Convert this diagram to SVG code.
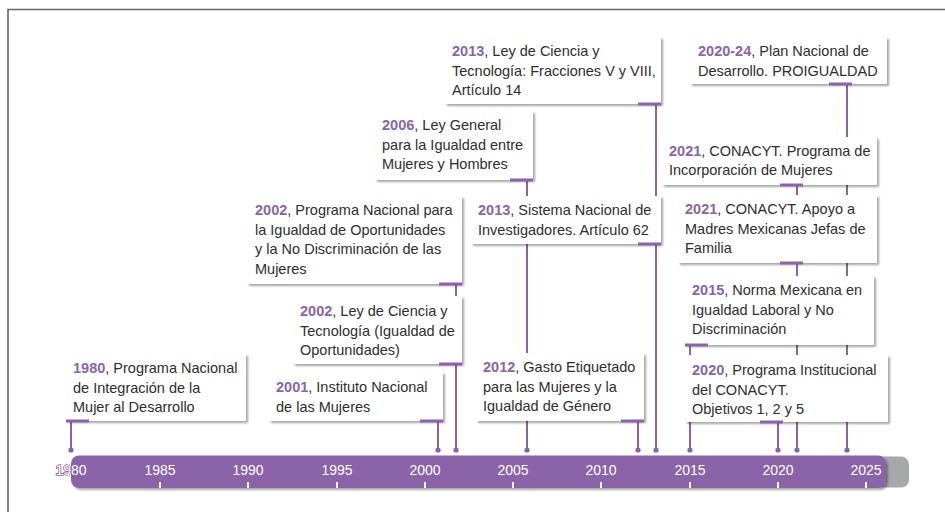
<svg xmlns="http://www.w3.org/2000/svg" width="945" height="512" viewBox="0 0 945 512">
<defs>
<filter id="sh" x="-10%" y="-10%" width="125%" height="135%">
<feDropShadow dx="2" dy="2" stdDeviation="1.3" flood-color="#000" flood-opacity="0.35"/>
</filter>
<style>
.box{fill:#fff;filter:url(#sh)}
.ul{stroke:#8b64a8;stroke-width:3}
.t{font-family:"Liberation Sans",Arial,Helvetica,sans-serif;font-size:14.5px;fill:#2e2e2e}
.y{font-weight:bold;fill:#8b64a8}
.con{stroke:#8b64a8;stroke-width:2;fill:none}
.dot{fill:#8b64a8}
.yr{font-family:"Liberation Sans",Arial,Helvetica,sans-serif;font-size:14px;fill:#fff;text-anchor:middle}
.tick{stroke:#fff;stroke-width:2}
</style>
</defs>
<rect width="945" height="512" fill="#fff"/>
<path d="M8 512 V9.5 H945" fill="none" stroke="#666" stroke-width="1.6"/>

<g id="axis">
<rect x="850" y="456.5" width="59" height="31" rx="8" fill="#a7a8ab"/>
<rect x="71" y="455.5" width="815" height="32.5" rx="8" fill="#8b64a8" filter="url(#sh)"/>
<g class="tick">
<line x1="160" y1="482" x2="160" y2="488"/>
<line x1="248" y1="482" x2="248" y2="488"/>
<line x1="337" y1="482" x2="337" y2="488"/>
<line x1="425" y1="482" x2="425" y2="488"/>
<line x1="513" y1="482" x2="513" y2="488"/>
<line x1="601" y1="482" x2="601" y2="488"/>
<line x1="690" y1="482" x2="690" y2="488"/>
<line x1="778" y1="482" x2="778" y2="488"/>
<line x1="866" y1="482" x2="866" y2="488"/>
</g>
<text class="yr" x="71" y="475" stroke="#8b64a8" stroke-width="1.6" paint-order="stroke">1980</text>
<text class="yr" x="160" y="475">1985</text>
<text class="yr" x="248" y="475">1990</text>
<text class="yr" x="337" y="475">1995</text>
<text class="yr" x="425" y="475">2000</text>
<text class="yr" x="513" y="475">2005</text>
<text class="yr" x="601" y="475">2010</text>
<text class="yr" x="690" y="475">2015</text>
<text class="yr" x="778" y="475">2020</text>
<text class="yr" x="866" y="475">2025</text>
</g>

<g id="connectors">
<line class="con" x1="71" y1="421" x2="71" y2="450"/>
<line class="con" x1="438" y1="421" x2="438" y2="450"/>
<line class="con" x1="456" y1="284" x2="456" y2="450"/>
<line class="con" x1="527" y1="180" x2="527" y2="450"/>
<line class="con" x1="638" y1="421" x2="638" y2="450"/>
<line class="con" x1="656" y1="104" x2="656" y2="450"/>
<line class="con" x1="690" y1="345" x2="690" y2="450"/>
<line class="con" x1="778" y1="422" x2="778" y2="450"/>
<line class="con" x1="797" y1="185" x2="797" y2="450"/>
<line class="con" x1="847" y1="84" x2="847" y2="450"/>
<circle class="dot" cx="71" cy="450" r="2.6"/>
<circle class="dot" cx="438" cy="450" r="2.6"/>
<circle class="dot" cx="456" cy="450" r="2.6"/>
<circle class="dot" cx="527" cy="450" r="2.6"/>
<circle class="dot" cx="638" cy="450" r="2.6"/>
<circle class="dot" cx="656" cy="450" r="2.6"/>
<circle class="dot" cx="690" cy="450" r="2.6"/>
<circle class="dot" cx="778" cy="450" r="2.6"/>
<circle class="dot" cx="797" cy="450" r="2.6"/>
<circle class="dot" cx="847" cy="450" r="2.6"/>
</g>

<g id="e1980">
<rect class="box" x="66" y="354" width="180" height="67"/>
<line class="ul" x1="66" y1="421" x2="89" y2="421"/>
<text class="t" x="73" y="373"><tspan class="y">1980</tspan>, Programa Nacional<tspan x="73" y="392.5">de Integración de la</tspan><tspan x="73" y="412">Mujer al Desarrollo</tspan></text>
</g>

<g id="e2001">
<rect class="box" x="269" y="372" width="174" height="49"/>
<line class="ul" x1="420" y1="421" x2="443" y2="421"/>
<text class="t" x="276" y="392"><tspan class="y">2001</tspan>, Instituto Nacional<tspan x="276" y="411.5">de las Mujeres</tspan></text>
</g>

<g id="e2002a">
<rect class="box" x="247" y="196" width="215" height="88"/>
<line class="ul" x1="439" y1="284" x2="462" y2="284"/>
<text class="t" x="255" y="215"><tspan class="y">2002</tspan>, Programa Nacional para<tspan x="255" y="234.5">la Igualdad de Oportunidades</tspan><tspan x="255" y="254">y la No Discriminación de las</tspan><tspan x="255" y="273.5">Mujeres</tspan></text>
</g>

<g id="e2002b">
<rect class="box" x="293" y="296" width="169" height="68"/>
<line class="ul" x1="439" y1="364" x2="462" y2="364"/>
<text class="t" x="300" y="316"><tspan class="y">2002</tspan>, Ley de Ciencia y<tspan x="300" y="335.5">Tecnología (Igualdad de</tspan><tspan x="300" y="355">Oportunidades)</tspan></text>
</g>

<g id="e2006">
<rect class="box" x="375" y="111" width="158" height="69"/>
<line class="ul" x1="510" y1="180" x2="533" y2="180"/>
<text class="t" x="382" y="130"><tspan class="y">2006</tspan>, Ley General<tspan x="382" y="149.5">para la Igualdad entre</tspan><tspan x="382" y="169">Mujeres y Hombres</tspan></text>
</g>

<g id="e2013a">
<rect class="box" x="445" y="37" width="216" height="67"/>
<line class="ul" x1="638" y1="104" x2="661" y2="104"/>
<text class="t" x="452" y="56"><tspan class="y">2013</tspan>, Ley de Ciencia y<tspan x="452" y="75.5">Tecnología: Fracciones V y VIII,</tspan><tspan x="452" y="95">Artículo 14</tspan></text>
</g>

<g id="e2013b">
<rect class="box" x="471" y="196" width="190" height="48"/>
<line class="ul" x1="638" y1="244" x2="661" y2="244"/>
<text class="t" x="478" y="215"><tspan class="y">2013</tspan>, Sistema Nacional de<tspan x="478" y="234.5">Investigadores. Artículo 62</tspan></text>
</g>

<g id="e2012">
<rect class="box" x="476" y="353" width="168" height="68"/>
<line class="ul" x1="621" y1="421" x2="644" y2="421"/>
<text class="t" x="483" y="372"><tspan class="y">2012</tspan>, Gasto Etiquetado<tspan x="483" y="391.5">para las Mujeres y la</tspan><tspan x="483" y="411">Igualdad de Género</tspan></text>
</g>

<g id="e2020-24">
<rect class="box" x="690" y="37" width="197" height="47"/>
<line class="ul" x1="829" y1="84" x2="852" y2="84"/>
<text class="t" x="698" y="56"><tspan class="y">2020-24</tspan>, Plan Nacional de<tspan x="698" y="75.5">Desarrollo. PROIGUALDAD</tspan></text>
</g>

<g id="e2021a">
<rect class="box" x="662" y="137" width="215" height="48"/>
<line class="ul" x1="780" y1="185" x2="803" y2="185"/>
<text class="t" x="669" y="155.5"><tspan class="y">2021</tspan>, CONACYT. Programa de<tspan x="669" y="175">Incorporación de Mujeres</tspan></text>
</g>

<g id="e2021b">
<rect class="box" x="678" y="195" width="199" height="68"/>
<line class="ul" x1="780" y1="263" x2="803" y2="263"/>
<text class="t" x="685" y="214"><tspan class="y">2021</tspan>, CONACYT. Apoyo a<tspan x="685" y="233.5">Madres Mexicanas Jefas de</tspan><tspan x="685" y="253">Familia</tspan></text>
</g>

<g id="e2015">
<rect class="box" x="685" y="276" width="189" height="69"/>
<line class="ul" x1="685" y1="345" x2="708" y2="345"/>
<text class="t" x="692" y="295"><tspan class="y">2015</tspan>, Norma Mexicana en<tspan x="692" y="314.5">Igualdad Laboral y No</tspan><tspan x="692" y="334">Discriminación</tspan></text>
</g>

<g id="e2020">
<rect class="box" x="685" y="355" width="203" height="67"/>
<line class="ul" x1="760" y1="422" x2="783" y2="422"/>
<text class="t" x="692" y="375"><tspan class="y">2020</tspan>, Programa Institucional<tspan x="692" y="394.5">del CONACYT.</tspan><tspan x="692" y="414">Objetivos 1, 2 y 5</tspan></text>
</g>
</svg>
